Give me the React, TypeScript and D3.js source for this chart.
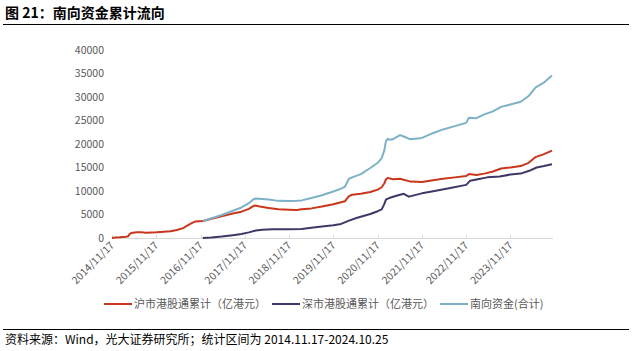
import React, { useRef, useEffect } from "react";
import * as d3 from "d3";

// 沪市港股通累计（亿港元）
const shDates = ["2014-11-17","2014-12-15","2015-01-20","2015-03-10","2015-03-31","2015-04-10","2015-04-24","2015-06-10","2015-07-15","2015-08-20","2015-10-10","2015-11-20","2016-01-20","2016-03-15","2016-05-05","2016-06-27","2016-07-27","2016-09-08","2016-10-03","2016-12-05","2017-02-15","2017-05-10","2017-08-10","2017-10-20","2017-12-20","2018-01-25","2018-02-12","2018-03-20","2018-06-01","2018-08-20","2018-11-17","2019-01-20","2019-03-01","2019-05-20","2019-08-15","2019-11-17","2020-01-20","2020-02-20","2020-03-25","2020-04-20","2020-07-01","2020-09-17","2020-11-17","2020-12-20","2021-01-10","2021-01-25","2021-02-10","2021-03-20","2021-05-20","2021-08-15","2021-11-17","2022-02-15","2022-05-10","2022-08-15","2022-11-17","2022-12-10","2023-02-10","2023-04-15","2023-06-20","2023-09-01","2023-11-17","2024-02-10","2024-04-15","2024-06-10","2024-08-15","2024-10-25"];
const shValues = [0,100,150,250,350,800,1050,1200,1250,1100,1150,1200,1350,1450,1700,2100,2600,3200,3500,3600,4100,4600,5200,5600,6200,6800,6900,6700,6400,6100,6000,5950,6100,6300,6700,7200,7600,7800,8900,9200,9400,9800,10300,10800,11600,12500,12800,12500,12600,12000,11900,12300,12600,12900,13200,13600,13400,13700,14100,14800,15000,15300,16000,17200,17800,18600];

// 深市港股通累计（亿港元）
const szDates = ["2016-12-05","2017-02-15","2017-05-10","2017-08-10","2017-10-20","2017-12-20","2018-02-15","2018-04-10","2018-07-01","2018-11-17","2019-03-01","2019-05-20","2019-08-15","2019-11-17","2020-01-20","2020-03-25","2020-06-01","2020-09-17","2020-11-17","2020-12-20","2021-01-10","2021-01-25","2021-02-20","2021-04-20","2021-06-20","2021-08-01","2021-11-17","2022-03-01","2022-07-20","2022-11-17","2022-12-20","2023-02-20","2023-05-10","2023-08-20","2023-11-17","2024-02-10","2024-04-20","2024-06-20","2024-08-20","2024-10-25"];
const szValues = [0,100,300,600,850,1200,1600,1750,1850,1850,1900,2200,2450,2700,3000,3700,4300,5100,5700,6100,7200,8200,8500,9000,9400,8800,9500,10000,10700,11300,12200,12500,12900,13100,13500,13700,14300,15000,15300,15700];

// 南向资金(合计)
const totalDates = ["2016-12-05","2017-02-15","2017-05-10","2017-08-10","2017-10-20","2017-12-20","2018-01-25","2018-02-15","2018-04-10","2018-06-01","2018-08-20","2018-11-17","2019-01-20","2019-03-01","2019-05-20","2019-08-15","2019-11-17","2020-01-20","2020-02-20","2020-03-25","2020-04-20","2020-07-01","2020-09-17","2020-11-17","2020-12-20","2021-01-10","2021-01-25","2021-02-10","2021-02-20","2021-03-20","2021-05-20","2021-06-20","2021-08-15","2021-11-17","2022-02-15","2022-05-10","2022-08-15","2022-11-17","2022-12-10","2023-02-10","2023-04-15","2023-06-20","2023-09-01","2023-11-17","2024-02-10","2024-04-15","2024-06-10","2024-08-15","2024-10-25"];
const totalValues = [3600,4200,4900,5800,6500,7400,8200,8400,8300,8200,7900,7850,7900,8000,8500,9100,9900,10500,10900,12600,12900,13600,14900,16000,17000,18600,20700,21100,20900,21000,21900,21600,21000,21300,22300,23100,23800,24500,25600,25500,26300,26900,27900,28400,29000,30200,32000,33000,34600];

const tickLabels = ["2014/11/17","2015/11/17","2016/11/17","2017/11/17","2018/11/17","2019/11/17","2020/11/17","2021/11/17","2022/11/17","2023/11/17"];
const yTicks = [0,5000,10000,15000,20000,25000,30000,35000,40000];
const seriesNames = ["沪市港股通累计（亿港元）","深市港股通累计（亿港元）","南向资金(合计)"];
const seriesColors = ["#C8361B","#3E3868","#7DB1C6"];

const FONT = "'Noto Sans CJK SC', 'Noto Sans', sans-serif";

const App = () => {
  const ref = useRef(null);

  useEffect(() => {
    const width = 644;
    const height = 351;
    d3.select(ref.current).selectAll("*").remove();

    const svg = d3
      .select(ref.current)
      .append("svg")
      .attr("width", width)
      .attr("height", height)
      .style("position", "absolute")
      .style("left", 0)
      .style("top", 0)
      .style("font-family", FONT)
      .style("background", "#fff");

    const parse = d3.timeParse("%Y-%m-%d");
    const tickParse = d3.timeParse("%Y/%m/%d");

    const x = d3
      .scaleTime()
      .domain([parse("2014-11-17"), parse("2024-10-25")])
      .range([112, 552]);
    const y = d3.scaleLinear().domain([0, 40000]).range([238, 50]);

    // title
    svg
      .append("text")
      .attr("x", 5)
      .attr("y", 18)
      .attr("font-size", "14px")
      .attr("font-weight", "bold")
      .attr("fill", "#000")
      .text("图 21：南向资金累计流向");
    svg
      .append("line")
      .attr("x1", 3)
      .attr("x2", 629)
      .attr("y1", 24.5)
      .attr("y2", 24.5)
      .attr("stroke", "#000")
      .attr("stroke-width", 1);

    // y axis labels
    svg
      .selectAll(".ylab")
      .data(yTicks)
      .enter()
      .append("text")
      .attr("class", "ylab")
      .attr("x", 104)
      .attr("y", (d) => y(d))
      .attr("dy", "0.35em")
      .attr("text-anchor", "end")
      .attr("font-size", "10.5px")
      .attr("fill", "#595959")
      .text((d) => d);

    // x axis
    svg
      .append("line")
      .attr("x1", 112)
      .attr("x2", 553)
      .attr("y1", 238.5)
      .attr("y2", 238.5)
      .attr("stroke", "#D9D9D9")
      .attr("stroke-width", 1);

    svg
      .selectAll(".xtick")
      .data(tickLabels)
      .enter()
      .append("line")
      .attr("class", "xtick")
      .attr("x1", (d) => Math.round(x(tickParse(d))) + 0.5)
      .attr("x2", (d) => Math.round(x(tickParse(d))) + 0.5)
      .attr("y1", 235)
      .attr("y2", 238)
      .attr("stroke", "#D9D9D9");

    svg
      .selectAll(".xlab")
      .data(tickLabels)
      .enter()
      .append("text")
      .attr("class", "xlab")
      .attr("transform", (d) => `translate(${x(tickParse(d)) + 3},${246}) rotate(-45)`)
      .attr("text-anchor", "end")
      .attr("font-size", "10.5px")
      .attr("fill", "#595959")
      .text((d) => d);

    // lines
    const line = d3
      .line()
      .x((d) => x(d[0]))
      .y((d) => y(d[1]))
      .curve(d3.curveLinear);

    const series = [
      shDates.map((d, i) => [parse(d), shValues[i]]),
      szDates.map((d, i) => [parse(d), szValues[i]]),
      totalDates.map((d, i) => [parse(d), totalValues[i]]),
    ];

    series.forEach((s, i) => {
      svg
        .append("path")
        .datum(s)
        .attr("d", line)
        .attr("fill", "none")
        .attr("stroke", seriesColors[i])
        .attr("stroke-width", 2)
        .attr("stroke-linejoin", "round");
    });

    // legend
    const legendX = [104, 272, 440];
    seriesNames.forEach((name, i) => {
      svg
        .append("line")
        .attr("x1", legendX[i])
        .attr("x2", legendX[i] + 28)
        .attr("y1", 304)
        .attr("y2", 304)
        .attr("stroke", seriesColors[i])
        .attr("stroke-width", 2);
      svg
        .append("text")
        .attr("x", legendX[i] + 30)
        .attr("y", 304)
        .attr("dy", "0.35em")
        .attr("font-size", "11px")
        .attr("fill", "#595959")
        .text(name);
    });

    // footer
    svg
      .append("line")
      .attr("x1", 3)
      .attr("x2", 629)
      .attr("y1", 329.5)
      .attr("y2", 329.5)
      .attr("stroke", "#000")
      .attr("stroke-width", 1);
    svg
      .append("text")
      .attr("x", 5)
      .attr("y", 344)
      .attr("font-size", "12px")
      .attr("fill", "#000")
      .text("资料来源：Wind，光大证券研究所；统计区间为 2014.11.17-2024.10.25");
  }, []);

  return <div ref={ref}></div>;
};

export default App;
